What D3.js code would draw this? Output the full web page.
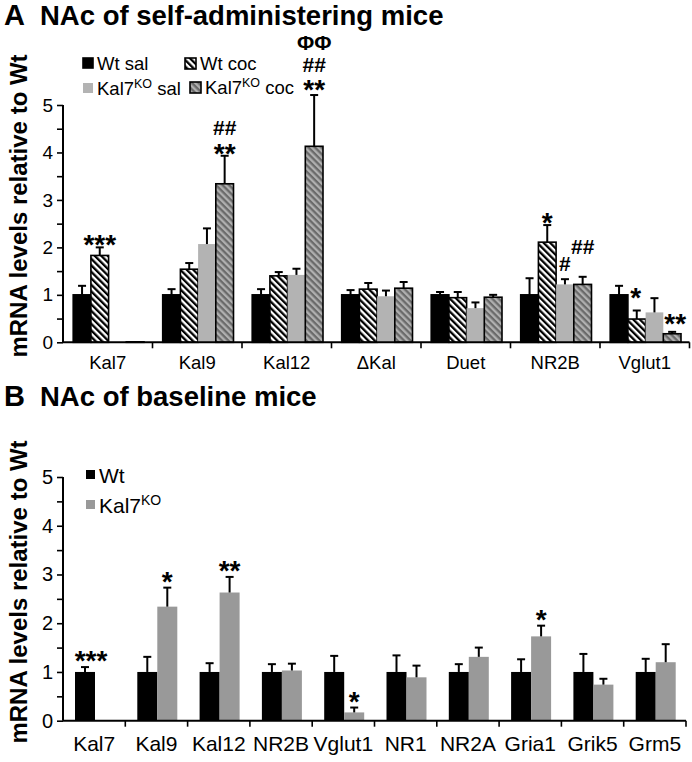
<!DOCTYPE html>
<html>
<head>
<meta charset="utf-8">
<script src="https://cdn.jsdelivr.net/npm/d3@7"></script>
<style>
  html, body { margin: 0; padding: 0; background: #fff; }
  svg { display: block; }
  text { font-family: "Liberation Sans", Arial, Helvetica, sans-serif; fill: #000; }
</style>
</head>
<body>
<script>
// ---------- Panel A data ----------
const catsA = ["Kal7", "Kal9", "Kal12", "ΔKal", "Duet", "NR2B", "Vglut1"];
const seriesA = ["wtSal", "wtCoc", "koSal", "koCoc"];
const wtSalA    = [1.00, 1.00, 1.00, 1.00, 1.00, 1.00, 1.00];
const wtSalErrA = [0.19, 0.12, 0.12, 0.10, 0.06, 0.35, 0.19];
const wtCocA    = [1.83, 1.54, 1.40, 1.12, 0.94, 2.11, 0.49];
const wtCocErrA = [0.17, 0.13, 0.08, 0.13, 0.12, 0.36, 0.18];
const koSalA    = [0.01, 2.07, 1.42, 0.97, 0.72, 1.22, 0.63];
const koSalErrA = [0.00, 0.33, 0.13, 0.12, 0.12, 0.11, 0.30];
const koCocA    = [0.01, 3.34, 4.13, 1.14, 0.95, 1.22, 0.18];
const koCocErrA = [0.00, 0.59, 1.08, 0.13, 0.05, 0.16, 0.04];
const yTicks = [0, 1, 2, 3, 4, 5];
// significance marks: category, series, text lines (bottom to top)
const marksA = [
  { cat: "Kal7",   s: "wtCoc", lines: ["***"] },
  { cat: "Kal9",   s: "koCoc", lines: ["**", "##"] },
  { cat: "Kal12",  s: "koCoc", lines: ["**", "##", "ΦΦ"] },
  { cat: "NR2B",   s: "wtCoc", lines: ["*"] },
  { cat: "NR2B",   s: "koSal", lines: ["#"] },
  { cat: "NR2B",   s: "koCoc", lines: ["##"] },
  { cat: "Vglut1", s: "wtCoc", lines: ["*"] },
  { cat: "Vglut1", s: "koCoc", lines: ["**"] }
];

// ---------- Panel B data ----------
const catsB = ["Kal7", "Kal9", "Kal12", "NR2B", "Vglut1", "NR1", "NR2A", "Gria1", "Grik5", "Grm5"];
const seriesB = ["wt", "ko"];
const wtB    = [1.00, 1.00, 1.00, 1.00, 1.00, 1.00, 1.00, 1.00, 1.00, 1.00];
const wtErrB = [0.10, 0.31, 0.18, 0.16, 0.33, 0.34, 0.16, 0.26, 0.37, 0.27];
const koB    = [0.01, 2.34, 2.63, 1.03, 0.17, 0.89, 1.31, 1.73, 0.74, 1.20];
const koErrB = [0.00, 0.39, 0.32, 0.14, 0.10, 0.24, 0.19, 0.22, 0.12, 0.37];
const marksB = [
  { cat: "Kal7",   s: "wt", lines: ["***"] },
  { cat: "Kal9",   s: "ko", lines: ["*"] },
  { cat: "Kal12",  s: "ko", lines: ["**"] },
  { cat: "Vglut1", s: "ko", lines: ["*"] },
  { cat: "Gria1",  s: "ko", lines: ["*"] }
];

// ---------- styling ----------
const FONT = '"Liberation Sans", Arial, Helvetica, sans-serif';
const W = 692, H = 762;
const svg = d3.select("body").append("svg").attr("width", W).attr("height", H);

const defs = svg.append("defs");
function hatch(id, bg, fg) {
  const p = defs.append("pattern").attr("id", id).attr("patternUnits", "userSpaceOnUse")
    .attr("width", 4.6).attr("height", 4.6).attr("patternTransform", "rotate(-45)");
  p.append("rect").attr("width", 4.6).attr("height", 4.6).attr("fill", bg);
  p.append("rect").attr("width", 2.3).attr("height", 4.6).attr("fill", fg);
}
hatch("hatchW", "#ffffff", "#000000");
hatch("hatchD", "#6a6a6a", "#b0b0b0");

const styleA = {
  wtSal: { fill: "#000", stroke: "#000" },
  wtCoc: { fill: "url(#hatchW)", stroke: "#000" },
  koSal: { fill: "#b3b3b3", stroke: "none" },
  koCoc: { fill: "url(#hatchD)", stroke: "#000" }
};
const styleB = {
  wt: { fill: "#000", stroke: "none" },
  ko: { fill: "#999999", stroke: "none" }
};

function panel(cfg) {
  const g = svg.append("g");
  const x = d3.scaleBand().domain(cfg.cats).range([cfg.x0, cfg.x1]).padding(0);
  const xs = d3.scaleBand().domain(cfg.series).range(cfg.inner).padding(0);
  const y = d3.scaleLinear().domain([0, 5]).range([cfg.yb, cfg.yt]);

  // bars
  cfg.series.forEach(s => {
    const vals = cfg.values[s], errs = cfg.errs[s], st = cfg.style[s];
    const sg = g.append("g");
    sg.selectAll("rect").data(cfg.cats).join("rect")
      .attr("x", (c) => x(c) + xs(s))
      .attr("y", (c, i) => y(vals[i]))
      .attr("width", xs.bandwidth())
      .attr("height", (c, i) => y(0) - y(vals[i]))
      .attr("fill", st.fill)
      .attr("stroke", st.stroke)
      .attr("stroke-width", 1.6);
    // error bars (upper only)
    const eg = g.append("g").attr("stroke", "#000").attr("stroke-width", 2);
    cfg.cats.forEach((c, i) => {
      if (errs[i] <= 0) return;
      const cx = x(c) + xs(s) + xs.bandwidth() / 2;
      eg.append("line").attr("x1", cx).attr("x2", cx).attr("y1", y(vals[i])).attr("y2", y(vals[i] + errs[i]));
      eg.append("line").attr("x1", cx - 4).attr("x2", cx + 4).attr("y1", y(vals[i] + errs[i])).attr("y2", y(vals[i] + errs[i]));
    });
  });

  // y axis
  const ya = d3.axisLeft(y).tickValues(d3.range(0, 5.01, 0.5)).tickSize(6).tickPadding(4)
    .tickFormat(d => yTicks.includes(d) ? d3.format("d")(d) : "");
  const yg = g.append("g").attr("transform", `translate(${cfg.x0},0)`).call(ya);
  yg.select(".domain").attr("stroke-width", 2).attr("d", `M0,${cfg.yt}V${cfg.yb}`);
  yg.selectAll(".tick line").attr("stroke-width", 1.6);
  yg.selectAll("text").style("font-family", FONT).style("font-size", cfg.tickFs + "px").attr("fill", "#000");

  // x axis: baseline + boundary ticks
  const xg = g.append("g");
  xg.append("line").attr("x1", cfg.x0).attr("x2", cfg.x1).attr("y1", cfg.yb).attr("y2", cfg.yb)
    .attr("stroke", "#000").attr("stroke-width", 2);
  const bounds = cfg.cats.map(c => x(c)).concat([x(cfg.cats[cfg.cats.length - 1]) + x.bandwidth()]).slice(1);
  xg.selectAll("line.b").data(bounds).join("line").attr("class", "b")
    .attr("x1", d => d).attr("x2", d => d).attr("y1", cfg.yb).attr("y2", cfg.yb + 6)
    .attr("stroke", "#000").attr("stroke-width", 1.6);
  xg.selectAll("text").data(cfg.cats).join("text")
    .attr("x", c => x(c) + x.bandwidth() / 2).attr("y", cfg.yb + cfg.labelDy)
    .attr("text-anchor", "middle").style("font-size", cfg.labelFs + "px").text(c => c);

  // y title
  g.append("text")
    .attr("transform", `translate(${cfg.ytX},${cfg.ytY}) rotate(-90)`)
    .attr("text-anchor", "middle").style("font-size", cfg.ytFs + "px").style("font-weight", "bold")
    .text("mRNA levels relative to Wt");

  // panel title
  g.append("text").attr("x", 4).attr("y", cfg.titleY).style("font-size", "29px").style("font-weight", "bold").text(cfg.letter);
  g.append("text").attr("x", 40).attr("y", cfg.titleY).style("font-size", "27.5px").style("font-weight", "bold").text(cfg.title);

  // significance marks
  cfg.marks.forEach(m => {
    const i = cfg.cats.indexOf(m.cat);
    const top = cfg.values[m.s][i] + cfg.errs[m.s][i];
    const cx = x(m.cat) + xs(m.s) + xs.bandwidth() / 2 + (m.dx || 0);
    let yc = y(top) - (m.gap || cfg.gap);
    m.lines.forEach((t, k) => {
      const isStar = t[0] === "*";
      const fs = isStar ? 28 : 21;
      const off = isStar ? 0.58 * fs : 0.36 * fs;
      g.append("text").attr("x", cx).attr("y", yc + off)
        .attr("text-anchor", "middle").style("font-size", fs + "px").style("font-weight", "bold")
        .text(t);
      yc -= (k === 0 ? 19 : 22);
    });
  });
  return { x, xs, y, g };
}

// per-mark extra offsets (visual placement)
marksA[0].gap = 10; marksA[1].gap = 9; marksA[2].gap = 12;
marksA[3].gap = 9; marksA[4].gap = 16; marksA[5].gap = 30;
marksA[6].gap = 20; marksA[6].dx = -1; marksA[7].gap = 15; marksA[7].dx = 3;
marksB[0].dx = 6;

const A = panel({
  cats: catsA, series: seriesA,
  values: { wtSal: wtSalA, wtCoc: wtCocA, koSal: koSalA, koCoc: koCocA },
  errs: { wtSal: wtSalErrA, wtCoc: wtCocErrA, koSal: koSalErrA, koCoc: koCocErrA },
  style: styleA, marks: marksA, gap: 10,
  x0: 63, x1: 689.5, inner: [10.2, 81], yt: 105, yb: 342.3,
  tickFs: 19, labelFs: 18.5, labelDy: 27, ytX: 27, ytY: 206, ytFs: 24,
  letter: "A", title: "NAc of self-administering mice", titleY: 25
});
const B = panel({
  cats: catsB, series: seriesB,
  values: { wt: wtB, ko: koB }, errs: { wt: wtErrB, ko: koErrB },
  style: styleB, marks: marksB, gap: 13,
  x0: 63, x1: 686, inner: [12, 52], yt: 477, yb: 720.7,
  tickFs: 20, labelFs: 21, labelDy: 30, ytX: 27, ytY: 592, ytFs: 24,
  letter: "B", title: "NAc of baseline mice", titleY: 406
});

// ---------- legends ----------
const legA = [
  { key: "wtSal", label: "Wt sal", sup: "", rest: "", sx: 83, sy: 58, size: 10 },
  { key: "wtCoc", label: "Wt coc", sup: "", rest: "", sx: 185, sy: 58, size: 11 },
  { key: "koSal", label: "Kal7", sup: "KO", rest: " sal", sx: 83, sy: 83, size: 10 },
  { key: "koCoc", label: "Kal7", sup: "KO", rest: " coc", sx: 190, sy: 82, size: 11 }
];
const lg = svg.append("g");
legA.forEach(d => {
  const st = styleA[d.key];
  lg.append("rect").attr("x", d.sx).attr("y", d.sy).attr("width", d.size).attr("height", d.size)
    .attr("fill", st.fill).attr("stroke", st.stroke).attr("stroke-width", 1.6);
  const t = lg.append("text").attr("x", d.sx + d.size + 4).attr("y", d.sy + 12).style("font-size", "18.5px");
  t.append("tspan").text(d.label);
  if (d.sup) {
    t.append("tspan").attr("dy", -7).style("font-size", "12.5px").text(d.sup);
    t.append("tspan").attr("dy", 7).text(d.rest);
  }
});
const legB = [
  { key: "wt", label: "Wt", sup: "", sx: 86, sy: 470 },
  { key: "ko", label: "Kal7", sup: "KO", sx: 86, sy: 500 }
];
legB.forEach(d => {
  lg.append("rect").attr("x", d.sx).attr("y", d.sy).attr("width", 9).attr("height", 9)
    .attr("fill", styleB[d.key].fill);
  const t = lg.append("text").attr("x", d.sx + 13).attr("y", d.sy + 13).style("font-size", "21px");
  t.append("tspan").text(d.label);
  if (d.sup) t.append("tspan").attr("dy", -8).style("font-size", "14px").text(d.sup);
});
</script>
</body>
</html>
